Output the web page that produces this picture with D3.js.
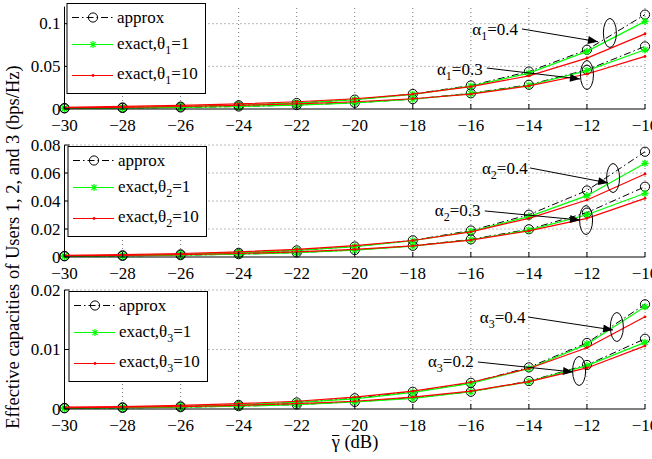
<!DOCTYPE html>
<html>
<head>
<meta charset="utf-8">
<script src="https://cdn.jsdelivr.net/npm/d3@7"></script>
<style>
  body { margin: 0; background: #fff; }
  svg { display: block; }
</style>
</head>
<body>
<svg id="chart" width="652" height="459" font-family="'Liberation Serif', 'DejaVu Serif', serif"></svg>
<script>
// x axis: average SNR in dB
const snrDb = [-30, -28, -26, -24, -22, -20, -18, -16, -14, -12, -10];

// user 1, alpha = 0.4 / 0.3
const u1ApproxHi = [0.0011, 0.0018, 0.0028, 0.0044, 0.0070, 0.0110, 0.0176, 0.0275, 0.0439, 0.0694, 0.1106];
const u1ApproxLo = [0.0007, 0.0012, 0.0018, 0.0029, 0.0046, 0.0073, 0.0116, 0.0184, 0.0284, 0.0459, 0.0733];
const u1Theta1Hi = [0.0011, 0.0017, 0.0028, 0.0044, 0.0069, 0.0109, 0.0172, 0.0268, 0.0420, 0.0675, 0.1027];
const u1Theta1Lo = [0.0007, 0.0011, 0.0018, 0.0029, 0.0046, 0.0072, 0.0114, 0.0180, 0.0278, 0.0450, 0.0694];
const u1Theta10Hi = [0.0020, 0.0030, 0.0042, 0.0060, 0.0085, 0.0120, 0.0175, 0.0262, 0.0388, 0.0596, 0.0880];
const u1Theta10Lo = [0.0013, 0.0020, 0.0029, 0.0042, 0.0060, 0.0085, 0.0120, 0.0175, 0.0270, 0.0410, 0.0616];

// user 2, alpha = 0.4 / 0.3
const u2ApproxHi = [0.00075, 0.0012, 0.0019, 0.0030, 0.0047, 0.0075, 0.0119, 0.0189, 0.0302, 0.0475, 0.0752];
const u2ApproxLo = [0.0005, 0.0008, 0.0013, 0.0020, 0.0032, 0.0050, 0.0080, 0.0126, 0.0198, 0.0317, 0.0502];
const u2Theta1Hi = [0.00075, 0.0012, 0.0019, 0.0030, 0.0047, 0.0074, 0.0116, 0.0183, 0.0288, 0.0438, 0.0669];
const u2Theta1Lo = [0.0005, 0.0008, 0.0013, 0.0020, 0.0031, 0.0049, 0.0078, 0.0123, 0.0192, 0.0302, 0.0455];
const u2Theta10Hi = [0.0012, 0.0017, 0.0025, 0.0037, 0.0055, 0.0081, 0.0118, 0.0180, 0.0276, 0.0407, 0.0593];
const u2Theta10Lo = [0.0008, 0.0012, 0.0017, 0.0025, 0.0037, 0.0054, 0.0080, 0.0121, 0.0186, 0.0276, 0.0419];

// user 3, alpha = 0.4 / 0.2
const u3ApproxHi = [0.00018, 0.00028, 0.00044, 0.0007, 0.0011, 0.0018, 0.0029, 0.0044, 0.0070, 0.0111, 0.0176];
const u3ApproxLo = [0.00012, 0.00019, 0.0003, 0.00047, 0.00075, 0.0012, 0.0019, 0.0029, 0.0047, 0.0074, 0.0118];
const u3Theta1Hi = [0.00018, 0.00028, 0.00044, 0.0007, 0.0011, 0.0017, 0.0028, 0.0043, 0.0068, 0.0109, 0.0172];
const u3Theta1Lo = [0.00012, 0.00019, 0.0003, 0.00047, 0.00074, 0.0012, 0.0018, 0.0029, 0.0046, 0.0073, 0.0112];
const u3Theta10Hi = [0.0003, 0.0004, 0.0006, 0.0009, 0.0013, 0.0020, 0.0030, 0.0045, 0.0068, 0.0103, 0.0155];
const u3Theta10Lo = [0.0002, 0.0003, 0.0004, 0.0006, 0.0009, 0.0013, 0.0020, 0.0030, 0.0046, 0.0069, 0.0106];

const yTicks1 = [0, 0.05, 0.1];
const yTicks2 = [0, 0.02, 0.04, 0.06, 0.08];
const yTicks3 = [0, 0.01, 0.02];

const legendNames = ['approx', 'exact,θ', 'exact,θ'];
const legendThetas = ['', '=1', '=10'];

// annotation: label (tx,ty), arrow from (ax,ay) to (bx,by), ellipse centre (ex,ey), in data units
const notes1 = [
  { alpha: '=0.4', tx: -15.95, ty: 0.0867, ax: -14.24, ay: 0.0938, bx: -11.62, by: 0.0789, ex: -11.21, ey: 0.0891 },
  { alpha: '=0.3', tx: -17.17, ty: 0.0398, ax: -15.45, ay: 0.0480, bx: -12.24, by: 0.0352, ex: -12.00, ey: 0.0398 }
];
const notes2 = [
  { alpha: '=0.4', tx: -15.62, ty: 0.0593, ax: -13.96, ay: 0.0636, bx: -11.27, by: 0.0529, ex: -11.10, ey: 0.0564 },
  { alpha: '=0.3', tx: -17.24, ty: 0.0293, ax: -15.52, ay: 0.0329, bx: -12.24, by: 0.0264, ex: -12.03, ey: 0.0264 }
];
const notes3 = [
  { alpha: '=0.4', tx: -15.69, ty: 0.01445, ax: -14.03, ay: 0.01546, bx: -11.10, by: 0.01328, ex: -10.97, ey: 0.01378 },
  { alpha: '=0.2', tx: -17.48, ty: 0.00706, ax: -15.76, ay: 0.0079, bx: -12.48, by: 0.00622, ex: -12.27, ey: 0.00639 }
];

const panels = [
  { user: '1', yMax: 0.12, top: 6.6, bottom: 109, ticks: yTicks1, legendX: 67, legendY: 3.5, notes: notes1,
    approx: [u1ApproxHi, u1ApproxLo], theta1: [u1Theta1Hi, u1Theta1Lo], theta10: [u1Theta10Hi, u1Theta10Lo] },
  { user: '2', yMax: 0.08, top: 145, bottom: 257, ticks: yTicks2, legendX: 68, legendY: 146.5, notes: notes2,
    approx: [u2ApproxHi, u2ApproxLo], theta1: [u2Theta1Hi, u2Theta1Lo], theta10: [u2Theta10Hi, u2Theta10Lo] },
  { user: '3', yMax: 0.02, top: 290, bottom: 409, ticks: yTicks3, legendX: 69, legendY: 291.5, notes: notes3,
    approx: [u3ApproxHi, u3ApproxLo], theta1: [u3Theta1Hi, u3Theta1Lo], theta10: [u3Theta10Hi, u3Theta10Lo] }
];

const svg = d3.select('#chart');
const x = d3.scaleLinear().domain([-30, -10]).range([64.5, 645]);
const fontSize = 17;

svg.append('defs').append('marker')
  .attr('id', 'arrow')
  .attr('viewBox', '0 0 10 8')
  .attr('refX', 10).attr('refY', 4)
  .attr('markerWidth', 11).attr('markerHeight', 8)
  .attr('markerUnits', 'userSpaceOnUse')
  .attr('orient', 'auto')
  .append('path').attr('d', 'M0,0 L10,4 L0,8 Z').attr('fill', '#000');

const starPath = 'M0,-3.6V3.6M-3.6,0H3.6M-2.6,-2.6L2.6,2.6M-2.6,2.6L2.6,-2.6';

function drawMarker(g, type, px, py) {
  if (type === 'approx') {
    g.append('circle').attr('cx', px).attr('cy', py).attr('r', 4.6)
      .attr('fill', 'none').attr('stroke', '#000').attr('stroke-width', 1);
  } else if (type === 'theta1') {
    g.append('path').attr('d', starPath).attr('transform', `translate(${px},${py})`)
      .attr('stroke', '#00ff00').attr('stroke-width', 1.2).attr('fill', 'none');
  } else {
    g.append('circle').attr('cx', px).attr('cy', py).attr('r', 1.4).attr('fill', '#ff0000');
  }
}

const styles = {
  approx: { color: '#000', width: 1, dash: '7,3,1.5,3' },
  theta1: { color: '#00ff00', width: 1.2, dash: null },
  theta10: { color: '#ff0000', width: 1.2, dash: null }
};

panels.forEach(p => {
  const y = d3.scaleLinear().domain([0, p.yMax]).range([p.bottom, p.top]);
  const g = svg.append('g');

  // grid
  g.selectAll('.vgrid').data(snrDb.slice(1)).join('line')
    .attr('x1', d => x(d)).attr('x2', d => x(d))
    .attr('y1', p.bottom).attr('y2', p.top)
    .attr('stroke', '#555').attr('stroke-width', 0.8).attr('stroke-dasharray', '1,3');
  g.selectAll('.hgrid').data(p.ticks.filter(t => t > 0)).join('line')
    .attr('x1', x(-30)).attr('x2', x(-10))
    .attr('y1', d => y(d)).attr('y2', d => y(d))
    .attr('stroke', '#555').attr('stroke-width', 0.8).attr('stroke-dasharray', '1,3');

  // series
  const line = d3.line().x((d, i) => x(snrDb[i])).y(d => y(d));
  ['approx', 'theta1', 'theta10'].forEach(key => {
    const st = styles[key];
    p[key].forEach(vals => {
      g.append('path').datum(vals).attr('d', line)
        .attr('fill', 'none').attr('stroke', st.color).attr('stroke-width', st.width)
        .attr('stroke-dasharray', st.dash);
      vals.forEach((v, i) => drawMarker(g, key, x(snrDb[i]), y(v)));
    });
  });

  // axes
  g.append('line').attr('x1', x(-30)).attr('x2', x(-30)).attr('y1', p.bottom).attr('y2', p.top)
    .attr('stroke', '#000').attr('stroke-width', 1);
  g.append('line').attr('x1', x(-30)).attr('x2', x(-10)).attr('y1', p.bottom).attr('y2', p.bottom)
    .attr('stroke', '#000').attr('stroke-width', 1);
  g.selectAll('.xt').data(snrDb).join('line')
    .attr('x1', d => x(d)).attr('x2', d => x(d)).attr('y1', p.bottom).attr('y2', p.bottom - 5)
    .attr('stroke', '#000');
  g.selectAll('.yt').data(p.ticks).join('line')
    .attr('x1', x(-30)).attr('x2', x(-30) + 5).attr('y1', d => y(d)).attr('y2', d => y(d))
    .attr('stroke', '#000');

  const fmt = d3.format('~g');
  g.selectAll('.xl').data(snrDb).join('text')
    .attr('x', d => x(d)).attr('y', p.bottom + 22)
    .attr('text-anchor', 'middle').attr('font-size', fontSize)
    .text(d => fmt(d));
  g.selectAll('.yl').data(p.ticks).join('text')
    .attr('x', x(-30) - 4).attr('y', d => y(d)).attr('dy', '0.34em')
    .attr('text-anchor', 'end').attr('font-size', fontSize)
    .text(d => fmt(d));

  // annotations
  p.notes.forEach(n => {
    const t = g.append('text').attr('x', x(n.tx)).attr('y', y(n.ty)).attr('font-size', fontSize);
    t.append('tspan').text('α');
    t.append('tspan').attr('font-size', 12).attr('dy', 5).text(p.user);
    t.append('tspan').attr('dy', -5).text(n.alpha);
    g.append('line').attr('x1', x(n.ax)).attr('y1', y(n.ay)).attr('x2', x(n.bx)).attr('y2', y(n.by))
      .attr('stroke', '#000').attr('stroke-width', 1).attr('marker-end', 'url(#arrow)');
    g.append('ellipse').attr('cx', x(n.ex)).attr('cy', y(n.ey)).attr('rx', 6.5).attr('ry', 14.5)
      .attr('fill', 'none').attr('stroke', '#000').attr('stroke-width', 1);
  });

  // legend
  const lg = g.append('g').attr('transform', `translate(${p.legendX},${p.legendY})`);
  lg.append('rect').attr('width', 138.5).attr('height', 90)
    .attr('fill', '#fff').attr('stroke', '#000').attr('stroke-width', 1);
  const lineY = [14, 41, 72];
  const textY = [19, 45, 75];
  ['approx', 'theta1', 'theta10'].forEach((key, i) => {
    const st = styles[key];
    lg.append('line').attr('x1', 5).attr('x2', 46).attr('y1', lineY[i]).attr('y2', lineY[i])
      .attr('stroke', st.color).attr('stroke-width', st.width).attr('stroke-dasharray', st.dash);
    drawMarker(lg, key, 26, lineY[i]);
    const t = lg.append('text').attr('x', 50).attr('y', textY[i]).attr('font-size', fontSize);
    t.append('tspan').text(legendNames[i]);
    if (i > 0) {
      t.append('tspan').attr('font-size', 12).attr('dy', 5).text(p.user);
      t.append('tspan').attr('dy', -5).text(legendThetas[i]);
    }
  });
});

// axis titles
svg.append('text')
  .attr('transform', 'translate(19,247) rotate(-90)')
  .attr('text-anchor', 'middle').attr('font-size', 18.5)
  .text('Effective capacities of Users 1, 2, and 3 (bps/Hz)');
const xTitle = svg.append('text')
  .attr('x', 355).attr('y', 448).attr('text-anchor', 'middle').attr('font-size', 18.5);
xTitle.append('tspan').attr('class', 'gam').text('γ');
xTitle.append('tspan').text(' (dB)');
// bar over gamma
const gb = xTitle.select('.gam').node().getBBox();
svg.append('line')
  .attr('x1', gb.x + 1.5).attr('x2', gb.x + gb.width - 0.5)
  .attr('y1', gb.y + 3.5).attr('y2', gb.y + 3.5)
  .attr('stroke', '#000').attr('stroke-width', 1);
</script>
</body>
</html>
